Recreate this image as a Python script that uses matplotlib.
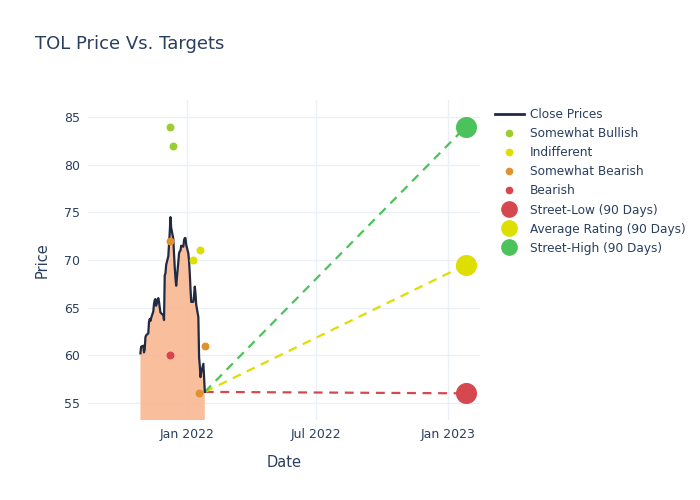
import numpy as np
import pandas as pd
import matplotlib.pyplot as plt
import matplotlib.dates as mdates
from matplotlib.lines import Line2D

# close prices, business days ending 2022-01-26
close_prices = [60.2, 60.9, 61.0, 60.3, 60.6, 61.9, 62.1, 62.3, 63.5, 63.8,
                63.6, 63.9, 64.6, 65.4, 65.8, 65.9, 65.2, 66.0, 65.6, 65.0,
                64.5, 64.4, 64.2, 63.7, 68.4, 68.6, 69.5, 70.4, 71.7, 72.9,
                74.5, 73.4, 72.2, 70.6, 69.2, 68.1, 67.3, 69.8, 70.7, 70.9,
                71.0, 71.5, 71.4, 72.1, 72.3, 72.3, 71.6, 70.7, 69.9, 68.6,
                67.0, 65.6, 65.6, 66.3, 67.2, 66.5, 65.3, 64.0, 59.8, 58.9,
                57.7, 58.2, 59.1, 57.7, 56.15]
close_dates = pd.bdate_range(end="2022-01-26", periods=len(close_prices))

# analyst ratings
bull_dates = ["2021-12-09", "2021-12-13"]
bull_vals = [84, 82]
indiff_dates = ["2022-01-10", "2022-01-19"]
indiff_vals = [70, 71]
sbear_dates = ["2021-12-09", "2022-01-26", "2022-01-18"]
sbear_vals = [72, 61, 56]
bear_dates = ["2021-12-09"]
bear_vals = [60]

# 90 day targets
target_date = "2023-01-26"
street_low = 56
avg_rating = 69.5
street_high = 84

text_col = "#2a3f5f"
grid_col = "#ebf0f8"
c_bull = "#9acd32"
c_indiff = "#dede00"
c_sbear = "#e0922f"
c_bear = "#d9444d"
c_low = "#d6484f"
c_avg = "#dede00"
c_high = "#4cc35a"

fig = plt.figure(figsize=(7, 5), dpi=100)
ax = fig.add_axes([0.126, 0.16, 0.56, 0.64])

ax.fill_between(close_dates, 0, close_prices, color="#f9b48c", alpha=0.85, lw=0, zorder=1)
ax.plot(close_dates, close_prices, color="#1f2a44", lw=1.6, zorder=3)

last_d = close_dates[-1]
last_p = close_prices[-1]
td = pd.Timestamp(target_date)
for val, col in [(street_low, c_low), (avg_rating, c_avg), (street_high, c_high)]:
    ax.plot([last_d, td], [last_p, val], color=col, lw=1.6, ls=(0, (4, 3)), zorder=2)

ax.scatter(pd.to_datetime(bull_dates), bull_vals, s=22, color=c_bull, zorder=4)
ax.scatter(pd.to_datetime(indiff_dates), indiff_vals, s=22, color=c_indiff, zorder=4)
ax.scatter(pd.to_datetime(sbear_dates), sbear_vals, s=22, color=c_sbear, zorder=4)
ax.scatter(pd.to_datetime(bear_dates), bear_vals, s=22, color=c_bear, zorder=4)

ax.scatter([td], [street_low], s=200, color=c_low, zorder=5)
ax.scatter([td], [avg_rating], s=200, color=c_avg, zorder=5)
ax.scatter([td], [street_high], s=200, color=c_high, zorder=5)

ax.set_xlim(pd.Timestamp("2021-08-16"), pd.Timestamp("2023-02-15"))
ax.set_ylim(53.2, 86.8)
ax.set_yticks([55, 60, 65, 70, 75, 80, 85])
ax.xaxis.set_major_locator(mdates.MonthLocator(bymonth=[1, 7]))
ax.xaxis.set_major_formatter(mdates.DateFormatter("%b %Y"))

for s in ax.spines.values():
    s.set_visible(False)
ax.grid(True, color=grid_col, lw=1)
ax.set_axisbelow(True)
ax.tick_params(length=0, colors=text_col, labelsize=9, pad=6)
ax.set_xlabel("Date", color=text_col, fontsize=10.5, labelpad=10)
ax.set_ylabel("Price", color=text_col, fontsize=10.5, labelpad=10)

fig.text(0.05, 0.912, "TOL Price Vs. Targets", color=text_col, fontsize=13, va="center")

handles = [
    Line2D([], [], color="#1f2a44", lw=2),
    Line2D([], [], ls="", marker="o", ms=4.5, color=c_bull),
    Line2D([], [], ls="", marker="o", ms=4.5, color=c_indiff),
    Line2D([], [], ls="", marker="o", ms=4.5, color=c_sbear),
    Line2D([], [], ls="", marker="o", ms=4.5, color=c_bear),
    Line2D([], [], ls="", marker="o", ms=11, color=c_low),
    Line2D([], [], ls="", marker="o", ms=11, color=c_avg),
    Line2D([], [], ls="", marker="o", ms=11, color=c_high),
]
labels = ["Close Prices", "Somewhat Bullish", "Indifferent", "Somewhat Bearish",
          "Bearish", "Street-Low (90 Days)", "Average Rating (90 Days)", "Street-High (90 Days)"]
leg = fig.legend(handles, labels, loc="upper left", bbox_to_anchor=(0.700, 0.793),
                 frameon=False, fontsize=8.7, labelspacing=0.5, handlelength=2.4,
                 handletextpad=0.5, borderaxespad=0)
for t in leg.get_texts():
    t.set_color(text_col)

fig.savefig("out.png", dpi=100)
